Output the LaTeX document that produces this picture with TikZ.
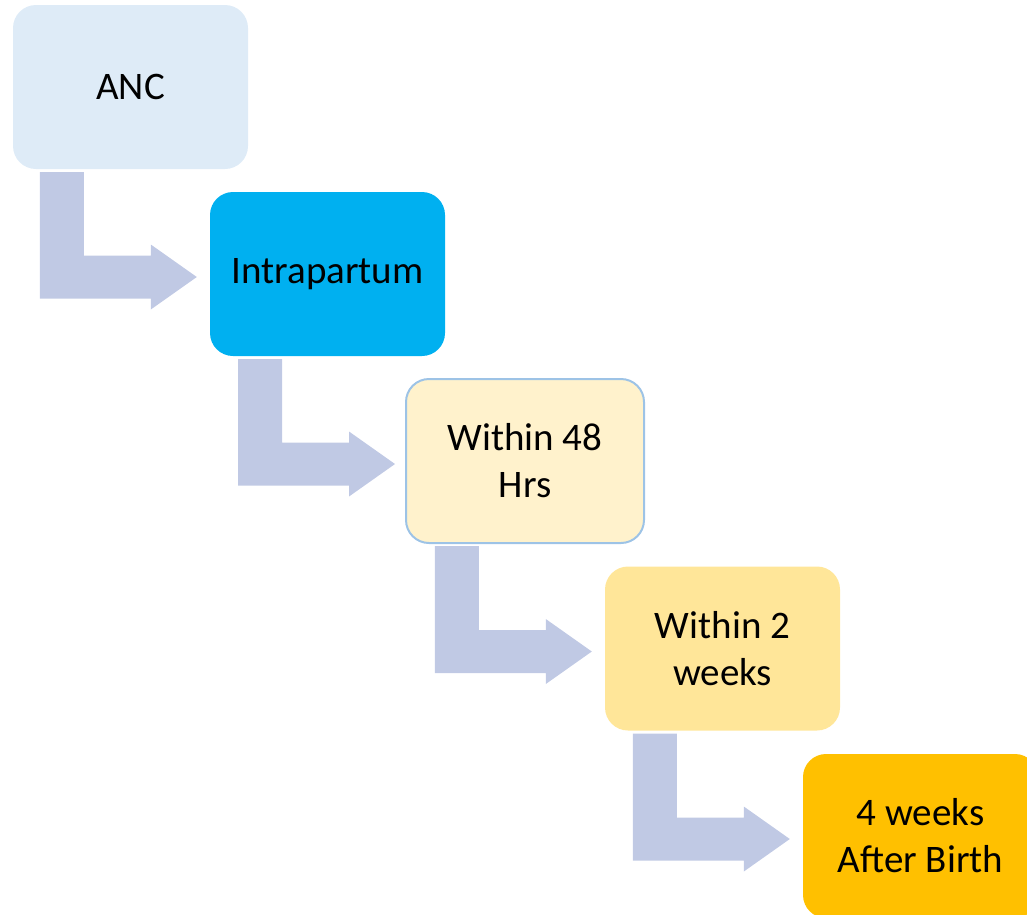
\documentclass[tikz,border=0pt]{standalone}
\usepackage{fontspec}
\setmainfont{Carlito}
\usetikzlibrary{calc}

\definecolor{ancblue}{HTML}{DEEBF7}
\definecolor{intrablue}{HTML}{00B0F0}
\definecolor{paleyellow}{HTML}{FFF2CC}
\definecolor{edgeblue}{HTML}{9DC3E6}
\definecolor{lightgold}{HTML}{FFE699}
\definecolor{gold}{HTML}{FFC000}
\definecolor{flowgrey}{HTML}{C0C9E4}

\begin{document}
\begin{tikzpicture}[x=1pt, y=-1pt,
	stage/.style={rectangle, rounded corners=23pt, minimum width=235pt, minimum height=164pt,
		inner sep=0pt, align=center, font=\fontsize{39}{47}\selectfont},
	flowarrow/.style={fill=flowgrey}]
	\clip (0,0) rectangle (1027,914);

	\node [stage, fill=ancblue] (anc) at (130.5,87) {ANC};
	\node [stage, fill=intrablue] (intra) at (327.5,274) {Intrapartum};
	\node [stage, fill=paleyellow, draw=edgeblue, line width=2pt, minimum width=238pt, minimum height=164pt] (hrs) at (525,461) {Within 48\\Hrs};
	\node [stage, fill=lightgold] (weeks) at (722.5,648.5) {Within 2\\weeks};
	\node [stage, fill=gold] (birth) at (920.5,836) {4 weeks\\After Birth};

	% bent arrows between the stages
	\coordinate (t1) at ([xshift=-13pt,yshift=-3pt]intra.west);
	\coordinate (t2) at ([xshift=-10pt,yshift=-3pt]hrs.west);
	\coordinate (t3) at ([xshift=-13pt,yshift=-3pt]weeks.west);
	\coordinate (t4) at ([xshift=-13pt,yshift=-3pt]birth.west);

	\fill [flowarrow] (t1) -- ++(-46,-32.5) -- ++(0,11) -- ++(-67,0) -- ($(t1 |- anc.south)+(-113,3)$) -- ++(-44,0) |- ($(t1)+(-46,21.5)$) -- ++(0,11) -- cycle;
	\fill [flowarrow] (t2) -- ++(-46,-32.5) -- ++(0,11) -- ++(-67,0) -- ($(t2 |- intra.south)+(-113,3)$) -- ++(-44,0) |- ($(t2)+(-46,21.5)$) -- ++(0,11) -- cycle;
	\fill [flowarrow] (t3) -- ++(-46,-32.5) -- ++(0,11) -- ++(-67,0) -- ($(t3 |- hrs.south)+(-113,2)$) -- ++(-44,0) |- ($(t3)+(-46,21.5)$) -- ++(0,11) -- cycle;
	\fill [flowarrow] (t4) -- ++(-46,-32.5) -- ++(0,11) -- ++(-67,0) -- ($(t4 |- weeks.south)+(-113,3)$) -- ++(-44,0) |- ($(t4)+(-46,21.5)$) -- ++(0,11) -- cycle;

\end{tikzpicture}
\end{document}
